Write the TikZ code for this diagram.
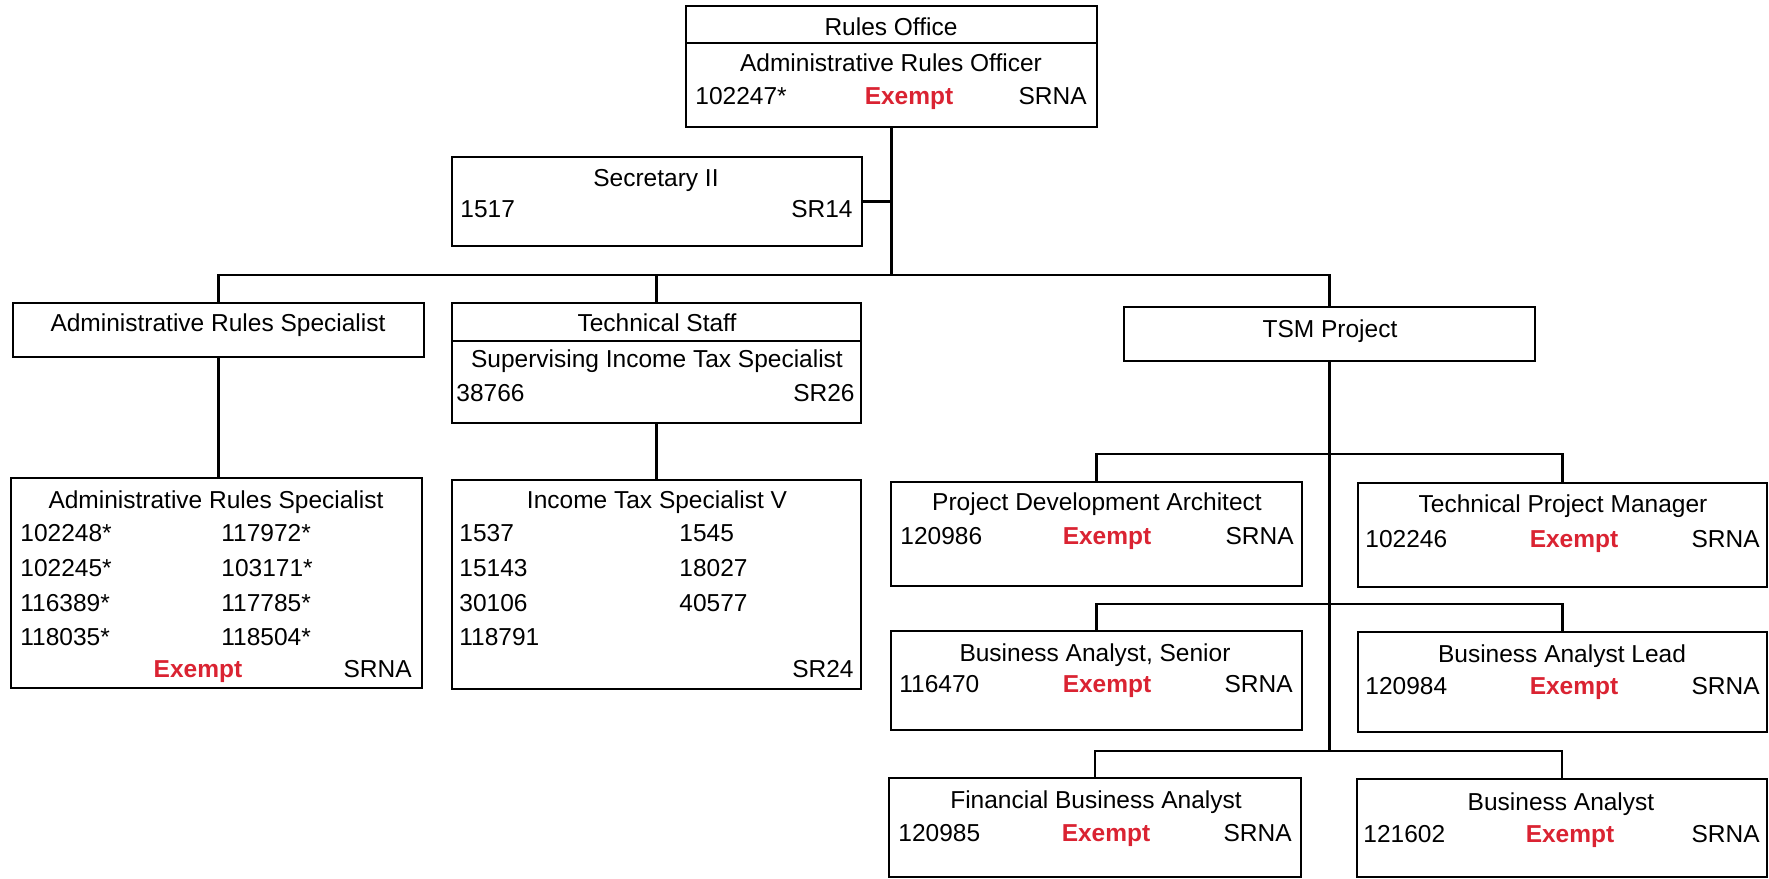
\documentclass[tikz,border=0pt]{standalone}
\usepackage{fontspec}
\setmainfont{Liberation Sans}
\usetikzlibrary{fit}
\definecolor{exred}{RGB}{218,35,50}
\newcommand{\fsz}{\fontsize{12.25}{14}\selectfont}
\tikzset{
  box/.style={draw, line width=1.3pt, inner sep=0pt, outer sep=0pt, rectangle},
  conn/.style={line width=1.3pt},
  txt/.style={inner sep=0pt, font=\fsz},
  tl/.style={txt, anchor=base west},
  tr/.style={txt, anchor=base east},
  tc/.style={txt, anchor=base},
  ex/.style={tc, font=\fsz\bfseries, text=exred}
}
\begin{document}
\begin{tikzpicture}[x=0.5pt,y=-0.5pt]
\useasboundingbox (0,0) rectangle (1769,879);
% boxes
\node[box, fit={(686,6) (1097,43)}] (roH) {};
\node[box, fit={(686,43) (1097,127)}] (roB) {};
\node[box, fit={(452,157) (862,246)}] (sec) {};
\node[box, fit={(13,303) (424,357)}] (ars) {};
\node[box, fit={(452,303) (861,341)}] (tsH) {};
\node[box, fit={(452,341) (861,423)}] (tsB) {};
\node[box, fit={(1124,307) (1535,361)}] (tsm) {};
\node[box, fit={(11,478) (422,688)}] (arsd) {};
\node[box, fit={(452,480) (861,689)}] (itx) {};
\node[box, fit={(891,482) (1302,586)}] (pda) {};
\node[box, fit={(1358,483) (1767,587)}] (tpm) {};
\node[box, fit={(891,631) (1302,730)}] (bas) {};
\node[box, fit={(1358,632) (1767,732)}] (bal) {};
\node[box, fit={(889,778) (1301,877)}] (fba) {};
\node[box, fit={(1357,779) (1767,877)}] (ba) {};
% connectors
\coordinate (bus) at (891.5,275);
\draw[conn] (roB.south) -- (bus);
\draw[conn] (bus) -| (ars.north);
\draw[conn] (bus) -| (tsH.north);
\draw[conn] (bus) -| (tsm.north);
\draw[conn] (sec.east) -- (sec.east -| roB.south);
\draw[conn] (ars.south) -- (ars.south |- arsd.north);
\draw[conn] (tsB.south) -- (tsB.south |- itx.north);
\draw[conn] (tsm.south) -- ++(0,390) coordinate (tsmend);
\draw[conn] (pda.north) -- ++(0,-28) -| (tpm.north);
\draw[conn] (bas.north) -- ++(0,-27) -| (bal.north);
\draw[conn] (fba.north) -- ++(0,-27) -| (ba.north);
% Rules Office
\node[tc] (t1) at (891,35) {Rules Office};
\node[tc] (t2) at (891,71) {Administrative Rules Officer};
\node[tl] (t3) at (695,104) {102247*};
\node[ex] (t4) at (909,104) {Exempt};
\node[tr] (t5) at (1087,104) {SRNA};
% Secretary
\node[tc] (t6) at (656,186) {Secretary II};
\node[tl] (t7) at (460,217) {1517};
\node[tr] (t8) at (853,217) {SR14};
% ARS header
\node[tc] (t9) at (218,331) {Administrative Rules Specialist};
% Tech staff
\node[tc] (t10) at (657,331) {Technical Staff};
\node[tc] (t11) at (657,367) {Supervising Income Tax Specialist};
\node[tl] (t12) at (456,401) {38766};
\node[tr] (t13) at (855,401) {SR26};
% TSM
\node[tc] (t14) at (1330,337) {TSM Project};
% ARS detail
\node[tc] (t15) at (216,508) {Administrative Rules Specialist};
\node[tl] (t16) at (20,541) {102248*};
\node[tl] (t17) at (221,541) {117972*};
\node[tl] (t18) at (20,576) {102245*};
\node[tl] (t19) at (221,576) {103171*};
\node[tl] (t20) at (20,611) {116389*};
\node[tl] (t21) at (221,611) {117785*};
\node[tl] (t22) at (20,645) {118035*};
\node[tl] (t23) at (221,645) {118504*};
\node[ex] (t24) at (198,677) {Exempt};
\node[tr] (t25) at (412,677) {SRNA};
% Income tax
\node[tc] (t26) at (657,508) {Income Tax Specialist V};
\node[tl] (t27) at (459,541) {1537};
\node[tl] (t28) at (679,541) {1545};
\node[tl] (t29) at (459,576) {15143};
\node[tl] (t30) at (679,576) {18027};
\node[tl] (t31) at (459,611) {30106};
\node[tl] (t32) at (679,611) {40577};
\node[tl] (t33) at (459,645) {118791};
\node[tr] (t34) at (854,677) {SR24};
% PDA
\node[tc] (t35) at (1097,510) {Project Development Architect};
\node[tl] (t36) at (900,544) {120986};
\node[ex] (t37) at (1107,544) {Exempt};
\node[tr] (t38) at (1294,544) {SRNA};
% TPM
\node[tc] (t39) at (1563,512) {Technical Project Manager};
\node[tl] (t40) at (1365,547) {102246};
\node[ex] (t41) at (1574,547) {Exempt};
\node[tr] (t42) at (1760,547) {SRNA};
% BAS
\node[tc] (t43) at (1095,661) {Business Analyst, Senior};
\node[tl] (t44) at (899,692) {116470};
\node[ex] (t45) at (1107,692) {Exempt};
\node[tr] (t46) at (1293,692) {SRNA};
% BAL
\node[tc] (t47) at (1562,662) {Business Analyst Lead};
\node[tl] (t48) at (1365,694) {120984};
\node[ex] (t49) at (1574,694) {Exempt};
\node[tr] (t50) at (1760,694) {SRNA};
% FBA
\node[tc] (t51) at (1096,808) {Financial Business Analyst};
\node[tl] (t52) at (898,841) {120985};
\node[ex] (t53) at (1106,841) {Exempt};
\node[tr] (t54) at (1292,841) {SRNA};
% BA
\node[tc] (t55) at (1561,810) {Business Analyst};
\node[tl] (t56) at (1363,842) {121602};
\node[ex] (t57) at (1570,842) {Exempt};
\node[tr] (t58) at (1760,842) {SRNA};
\end{tikzpicture}
\end{document}
